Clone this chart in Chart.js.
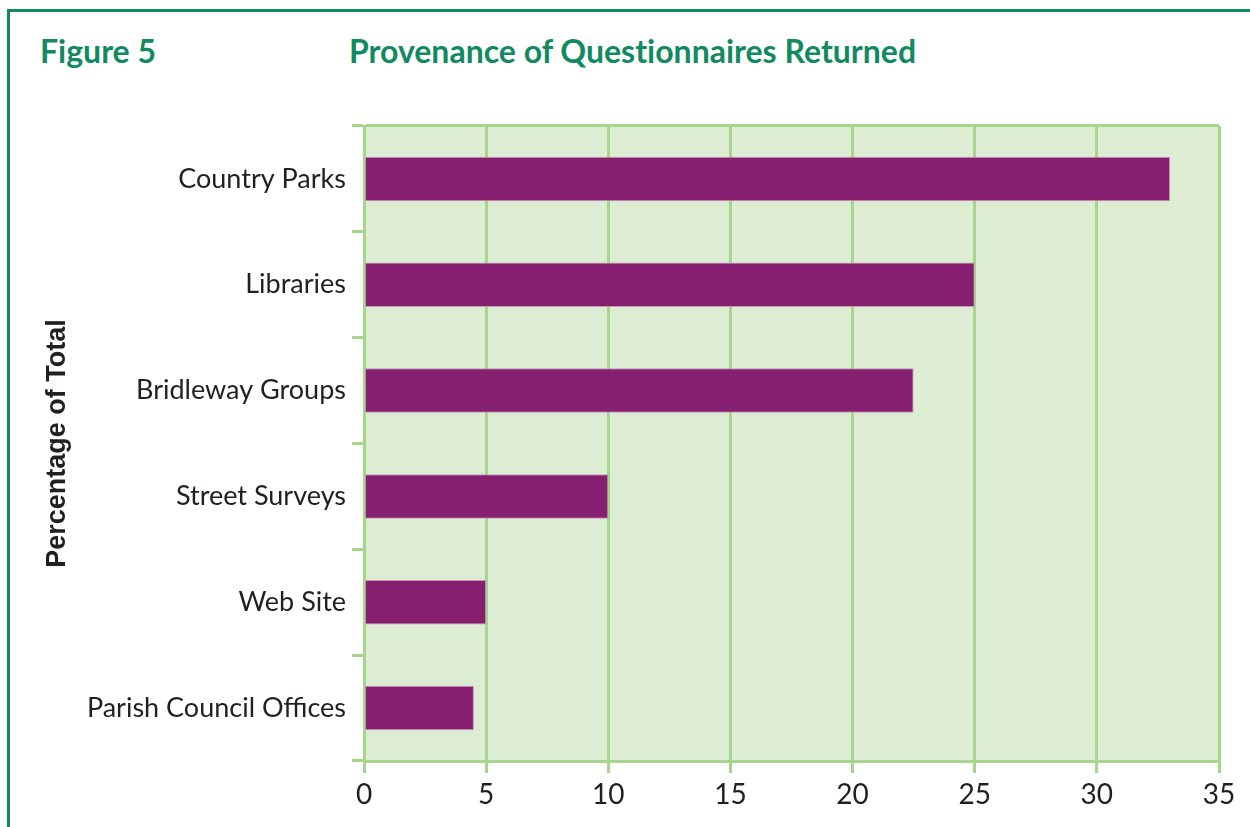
<!DOCTYPE html>
<html>
<head>
<meta charset="utf-8">
<title>Provenance of Questionnaires Returned</title>
<script src="https://cdn.jsdelivr.net/npm/chart.js@4.4.1/dist/chart.umd.min.js"></script>
<style>
  body { margin: 0; background: #fff; }
  #frame {
    position: absolute; left: 7px; top: 9px; width: 1243px; height: 818px;
    border-top: 3px solid #128a60; border-left: 3px solid #128a60; box-sizing: border-box;
  }
  .head {
    position: absolute; top: 35px; margin: 0;
    font: bold 32px/1 Lato, sans-serif; color: #128a60; white-space: nowrap;
    font-variant-ligatures: none;
  }
  #wrap { position: absolute; left: 0; top: 0; width: 1250px; height: 827px; }
</style>
</head>
<body>
<div id="frame"></div>
<h2 class="head" style="left:40px">Figure 5</h2>
<h2 class="head" style="left:349px">Provenance of Questionnaires Returned</h2>
<div id="wrap"><canvas id="bar-provenance" width="1250" height="827"></canvas></div>

<script>
const categories = [
  "Country Parks",
  "Libraries",
  "Bridleway Groups",
  "Street Surveys",
  "Web Site",
  "Parish Council Offices",
];
const percentOfTotal = [33, 25, 22.5, 10, 5, 4.5];
const axisMin = 0;
const axisMax = 35;
const axisStep = 5;

const GREEN_LINE = "#a6d68c";
const PLOT_FILL = "#ddedd4";
const BAR_FILL = "#861f70";
const TEXT = "#231f20";

// light green panel behind the bars
const plotBackground = {
  id: "plotBackground",
  beforeDraw(chart) {
    const { ctx, chartArea } = chart;
    ctx.save();
    ctx.fillStyle = PLOT_FILL;
    ctx.fillRect(chartArea.left, chartArea.top, chartArea.right - chartArea.left, chartArea.bottom - chartArea.top);
    ctx.restore();
  },
};

const ctx = document.getElementById("bar-provenance").getContext("2d");

new Chart(ctx, {
  type: "bar",
  data: {
    labels: categories,
    datasets: [
      {
        data: percentOfTotal,
        backgroundColor: BAR_FILL,
        borderColor: "#c595b8",
        borderWidth: 1,
        barPercentage: 0.42,
        categoryPercentage: 1,
      },
    ],
  },
  options: {
    indexAxis: "y",
    responsive: false,
    animation: false,
    layout: { padding: { top: 126, right: 31, left: 0, bottom: 0 } },
    plugins: {
      legend: { display: false },
      tooltip: { enabled: false },
    },
    scales: {
      x: {
        min: axisMin,
        max: axisMax,
        ticks: {
          stepSize: axisStep,
          color: TEXT,
          font: { family: "Lato", size: 28 },
          padding: 5,
        },
        grid: { color: GREEN_LINE, lineWidth: 3, tickLength: 12 },
        border: { color: GREEN_LINE, width: 3 },
        afterFit(scale) {
          scale.height = 66;
        },
      },
      y: {
        ticks: {
          color: TEXT,
          font: { family: "Lato", size: 27 },
          padding: 6,
        },
        grid: {
          offset: true,
          // only the top edge runs across the panel, the rest are short ticks
          color: (c) => (c.index === 0 ? GREEN_LINE : "transparent"),
          tickColor: GREEN_LINE,
          lineWidth: 3,
          tickLength: 12,
        },
        border: { color: GREEN_LINE, width: 3 },
        title: {
          display: true,
          text: "Percentage of Total",
          color: TEXT,
          font: { family: "Liberation Sans", weight: "bold", size: 27 },
          padding: { top: 41, bottom: 0 },
        },
        afterFit(scale) {
          scale.width = 364;
        },
      },
    },
  },
  plugins: [plotBackground],
});
</script>
</body>
</html>
